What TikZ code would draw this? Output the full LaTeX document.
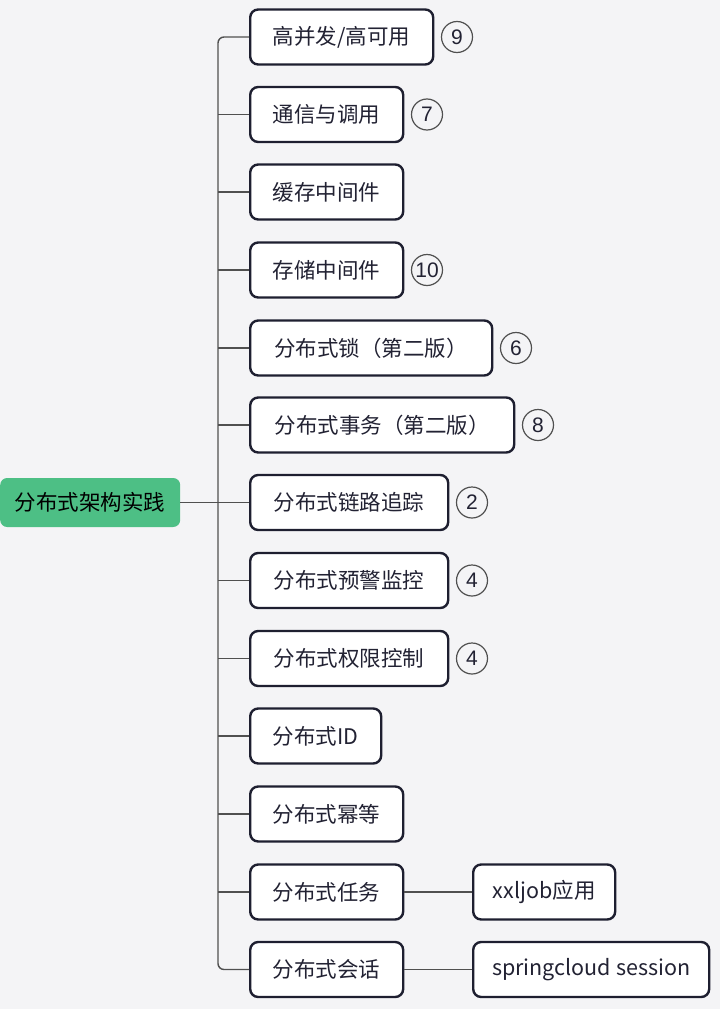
\documentclass[tikz,border=0pt]{standalone}
\usepackage{fontspec}
\setmainfont{Noto Sans CJK SC}
\newfontfamily\numfont{Liberation Sans}
\definecolor{bg}{HTML}{F4F4F6}
\definecolor{rootgreen}{HTML}{4DBF85}
\definecolor{boxborder}{HTML}{1E1F30}
\definecolor{linegray}{HTML}{505050}
\definecolor{txt}{HTML}{222233}
\begin{document}
\begin{tikzpicture}[x=1pt,y=-1pt,
  box/.style={draw=boxborder, line width=2.4pt, fill=white, rounded corners=8pt,
    minimum height=55pt, anchor=west, inner sep=0pt, font=\fontsize{21.5}{25}\selectfont, text=txt},
  rootbox/.style={fill=rootgreen, rounded corners=7pt, minimum height=49pt,
    minimum width=180pt, anchor=west, inner sep=0pt, font=\fontsize{21.5}{25}\selectfont, text=black},
  conn/.style={draw=linegray, line width=1.4pt},
  badge/.style={circle, draw=linegray, line width=1.2pt, minimum size=31pt, inner sep=0pt,
    font=\numfont\fontsize{21}{24}\selectfont, text=txt}]
\fill[bg] (0,0) rectangle (720,1009);
\useasboundingbox (0,0) rectangle (720,1009);

\node[rootbox] (root) at (0,502.5) {分布式架构实践};
\coordinate (trunk) at (218,502.5);

\node[box, minimum width=183pt] (b1) at (249,37) {高并发/高可用};
\node[box, minimum width=153pt] (b2) at (249,114.5) {通信与调用};
\node[box, minimum width=153pt] (b3) at (249,192) {缓存中间件};
\node[box, minimum width=153pt] (b4) at (249,270) {存储中间件};
\node[box, minimum width=242pt] (b5) at (249,348) {分布式锁（第二版）};
\node[box, minimum width=264pt] (b6) at (249,425) {分布式事务（第二版）};
\node[box, minimum width=198pt] (b7) at (249,502.5) {分布式链路追踪};
\node[box, minimum width=198pt] (b8) at (249,580.5) {分布式预警监控};
\node[box, minimum width=198pt] (b9) at (249,658.5) {分布式权限控制};
\node[box, minimum width=131pt] (b10) at (249,736) {分布式ID};
\node[box, minimum width=153pt] (b11) at (249,814) {分布式幂等};
\node[box, minimum width=153pt] (b12) at (249,892) {分布式任务};
\node[box, minimum width=153pt] (b13) at (249,969.5) {分布式会话};

\node[box, minimum width=142pt] (c12) at (472,892) {xxljob应用};
\node[box, minimum width=236pt] (c13) at (472,969.5) {springcloud session};

\node[badge] (n1) at (457,37) {9};
\node[badge] (n2) at (427,114.5) {7};
\node[badge] (n4) at (427,270) {10};
\node[badge] (n5) at (516,348) {6};
\node[badge] (n6) at (538,425) {8};
\node[badge] (n7) at (472,502.5) {2};
\node[badge] (n8) at (472,580.5) {4};
\node[badge] (n9) at (472,658.5) {4};

\draw[conn] (root.east) -- (b7.west);
\draw[conn, rounded corners=6pt] (b1.west) -| (trunk) |- (b13.west);
\foreach \b in {b2,b3,b4,b5,b6,b8,b9,b10,b11,b12}
  \draw[conn] (\b.west) -- (\b.west -| trunk);
\draw[conn] (b12.east) -- (c12.west);
\draw[conn] (b13.east) -- (c13.west);
\end{tikzpicture}
\end{document}
